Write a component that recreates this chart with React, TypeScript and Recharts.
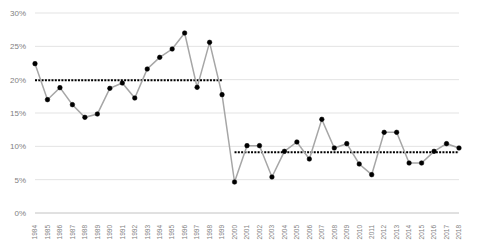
import React from "react";
import { LineChart, Line, XAxis, YAxis, CartesianGrid } from "recharts";

const years = [
  "1984","1985","1986","1987","1988","1989","1990","1991","1992","1993","1994","1995","1996","1997","1998","1999",
  "2000","2001","2002","2003","2004","2005","2006","2007","2008","2009","2010","2011","2012","2013","2014","2015","2016","2017","2018",
];
const rates = [
  22.4, 17.0, 18.8, 16.25, 14.35, 14.85, 18.7, 19.5, 17.25, 21.6, 23.35, 24.6, 27.0, 18.85, 25.6, 17.75,
  4.65, 10.1, 10.1, 5.4, 9.25, 10.65, 8.1, 14.05, 9.75, 10.4, 7.35, 5.75, 12.1, 12.1, 7.5, 7.5, 9.25, 10.4, 9.75,
];
const periodEnds = ["1999", "2018"];
const periodMeans = [19.9, 9.1];
const yTicks = [0, 5, 10, 15, 20, 25, 30];

const data = years.map((y, i) => {
  const first = Number(y) <= Number(periodEnds[0]);
  return {
    year: y,
    rate: rates[i],
    mean1: first ? periodMeans[0] : null,
    mean2: first ? null : periodMeans[1],
  };
});

const XTick = (props: any) => {
  const { x, y, payload } = props;
  return (
    <g transform={`translate(${x},${y + 4})`}>
      <text
        transform="rotate(-90)"
        textAnchor="end"
        dy="0.35em"
        fontSize={6.5}
        fill="#7f7f7f"
        fontFamily="Liberation Sans, Arial, sans-serif"
      >
        {payload.value}
      </text>
    </g>
  );
};

export default function App() {
  return (
    <div style={{ position: "absolute", left: 0, top: 0, background: "#fff" }}>
      <LineChart
        width={484}
        height={249}
        data={data}
        margin={{ top: 13, right: 25, left: 0, bottom: 0 }}
      >
        <CartesianGrid vertical={false} stroke="#e3e3e3" strokeWidth={1} />
        <XAxis
          dataKey="year"
          interval={0}
          tick={<XTick />}
          tickLine={false}
          axisLine={{ stroke: "#d0d0d0" }}
          height={36}
        />
        <YAxis
          domain={[0, 30]}
          ticks={yTicks}
          tickFormatter={(v: number) => `${v}%`}
          tickLine={false}
          axisLine={false}
          tickSize={0}
          tickMargin={9}
          width={35}
          tick={{ fontSize: 8, fill: "#7f7f7f", fontFamily: "Liberation Sans, Arial, sans-serif" }}
        />
        <Line
          dataKey="mean1"
          stroke="#000"
          strokeWidth={2}
          strokeDasharray="2 1.3"
          dot={false}
          isAnimationActive={false}
          connectNulls={false}
        />
        <Line
          dataKey="mean2"
          stroke="#000"
          strokeWidth={2}
          strokeDasharray="2 1.3"
          dot={false}
          isAnimationActive={false}
          connectNulls={false}
        />
        <Line
          dataKey="rate"
          stroke="#a6a6a6"
          strokeWidth={1.5}
          dot={{ r: 2.3, fill: "#000", stroke: "#000", strokeWidth: 0.5 }}
          isAnimationActive={false}
        />
      </LineChart>
    </div>
  );
}
